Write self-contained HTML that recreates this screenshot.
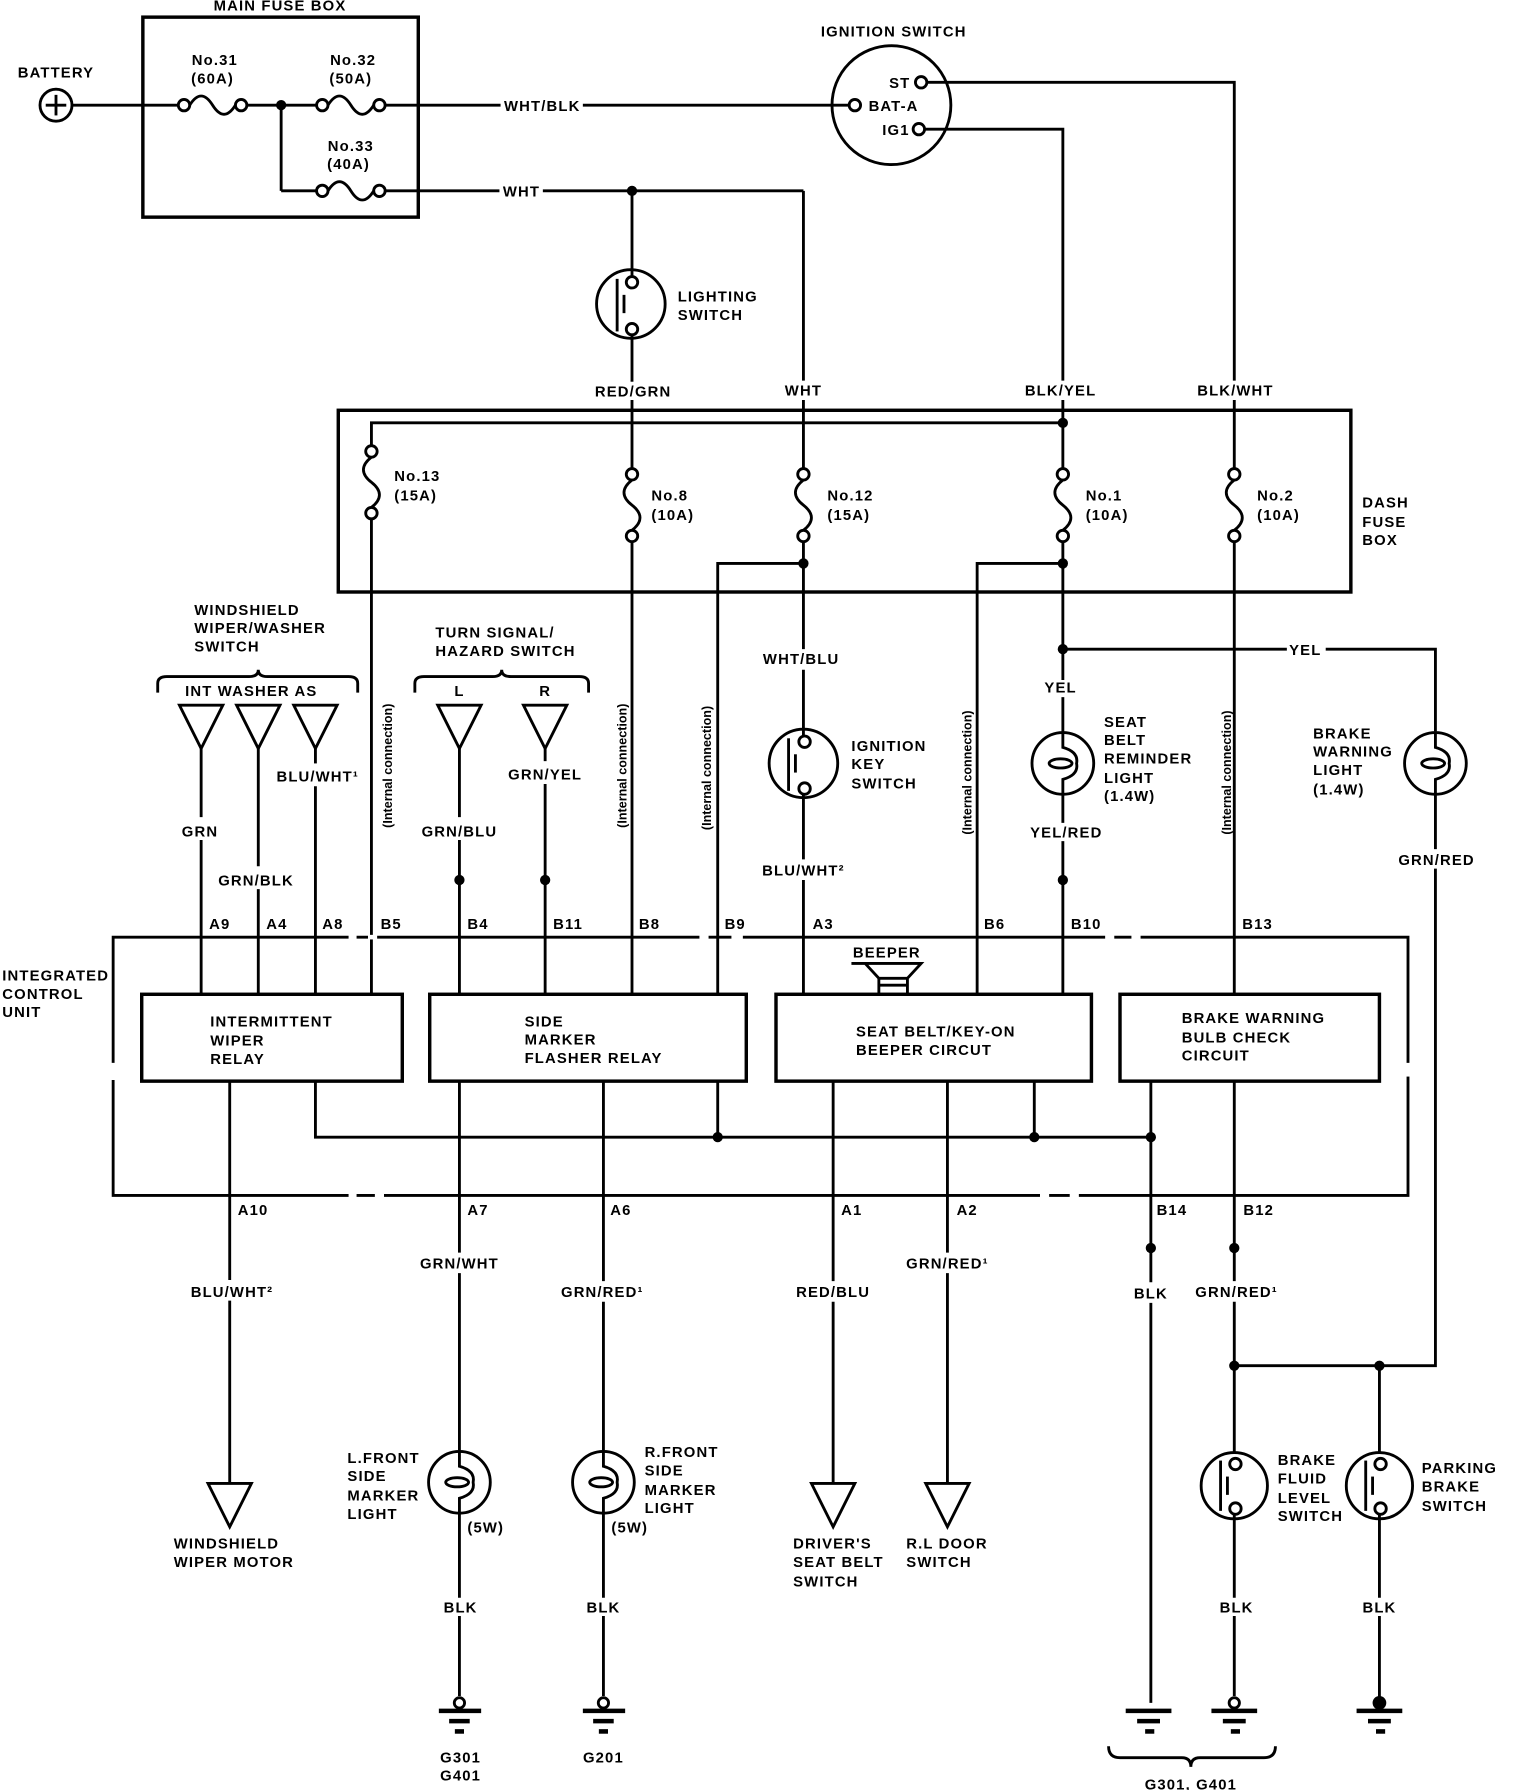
<!DOCTYPE html>
<html><head><meta charset="utf-8"><style>
html,body{margin:0;padding:0;background:#fff}
svg{display:block}
text{font-family:"Liberation Sans",sans-serif;font-weight:bold;font-size:13px;fill:#000;letter-spacing:1px}
.m{text-anchor:middle}
</style></head><body>
<svg width="1520" height="1790" viewBox="0 0 1330 1566.25" xmlns="http://www.w3.org/2000/svg">
<g stroke="#000" stroke-width="2.5" fill="none">
<!-- main fuse box -->
<rect x="125" y="15" width="241" height="175" stroke-width="3"/>
<circle cx="49" cy="92" r="14"/>
<line x1="40" y1="92" x2="58" y2="92"/><line x1="49" y1="83" x2="49" y2="101"/>
<line x1="63" y1="92" x2="156" y2="92"/>
<circle cx="161" cy="92" r="5"/><circle cx="211" cy="92" r="5"/>
<path d="M166 92 Q176 76 186 92 Q196 108 206 92"/>
<line x1="216" y1="92" x2="277" y2="92"/>
<circle cx="282" cy="92" r="5"/><circle cx="332" cy="92" r="5"/>
<path d="M287 92 Q297 76 307 92 Q317 108 327 92"/>
<line x1="337" y1="92" x2="438" y2="92"/>
<line x1="510" y1="92" x2="743" y2="92"/>
<line x1="246" y1="92" x2="246" y2="167"/><line x1="246" y1="167" x2="277" y2="167"/>
<circle cx="282" cy="167" r="5"/><circle cx="332" cy="167" r="5"/>
<path d="M287 167 Q297 151 307 167 Q317 183 327 167"/>
<line x1="337" y1="167" x2="437" y2="167"/>
<line x1="475" y1="167" x2="703" y2="167"/>
<line x1="703" y1="167" x2="703" y2="333"/>
<!-- ignition switch -->
<circle cx="780" cy="92" r="52"/>
<circle cx="806" cy="72" r="5"/><circle cx="748" cy="92" r="5"/><circle cx="804" cy="113" r="5"/>
<polyline points="811,72 1080,72 1080,333"/>
<polyline points="809,113 930,113 930,333"/>
<!-- lighting switch -->
<line x1="553" y1="167" x2="553" y2="242"/>
<circle cx="552" cy="266" r="30"/>
<circle cx="553" cy="247" r="5"/><circle cx="553" cy="288" r="5"/>
<line x1="540" y1="244" x2="540" y2="290"/><line x1="546" y1="258" x2="546" y2="274"/>
<line x1="553" y1="293" x2="553" y2="334"/>
<!-- dash fuse box -->
<rect x="296" y="359" width="886" height="159" stroke-width="3"/>
<line x1="553" y1="350" x2="553" y2="410"/>
<line x1="703" y1="350" x2="703" y2="410"/>
<line x1="930" y1="350" x2="930" y2="410"/>
<line x1="1080" y1="350" x2="1080" y2="410"/>
<polyline points="325,390 325,370 930,370"/>
<!-- fuses vertical -->
<circle cx="325" cy="395" r="5"/><circle cx="325" cy="449" r="5"/>
<path d="M325 400 Q311 411 325 422 Q339 433 325 444"/>
<circle cx="553" cy="415" r="5"/><circle cx="553" cy="469" r="5"/>
<path d="M553 420 Q539 431 553 442 Q567 453 553 464"/>
<circle cx="703" cy="415" r="5"/><circle cx="703" cy="469" r="5"/>
<path d="M703 420 Q689 431 703 442 Q717 453 703 464"/>
<circle cx="930" cy="415" r="5"/><circle cx="930" cy="469" r="5"/>
<path d="M930 420 Q916 431 930 442 Q944 453 930 464"/>
<circle cx="1080" cy="415" r="5"/><circle cx="1080" cy="469" r="5"/>
<path d="M1080 420 Q1066 431 1080 442 Q1094 453 1080 464"/>
<!-- below dash fuse -->
<line x1="325" y1="454" x2="325" y2="870"/>
<line x1="553" y1="474" x2="553" y2="870"/>
<line x1="703" y1="474" x2="703" y2="568"/>
<polyline points="703,493 628,493 628,870"/>
<line x1="930" y1="474" x2="930" y2="595"/>
<polyline points="930,493 855,493 855,870"/>
<line x1="930" y1="568" x2="1126" y2="568"/>
<polyline points="1160,568 1256,568 1256,640"/>
<line x1="1080" y1="474" x2="1080" y2="870"/>
<!-- ignition key switch -->
<line x1="703" y1="586" x2="703" y2="644"/>
<circle cx="703" cy="668" r="30"/>
<circle cx="704" cy="649" r="5"/><circle cx="704" cy="690" r="5"/>
<line x1="690" y1="646" x2="690" y2="692"/><line x1="696" y1="660" x2="696" y2="676"/>
<line x1="703" y1="695" x2="703" y2="752"/>
<line x1="703" y1="770" x2="703" y2="870"/>
<!-- seat belt light -->
<line x1="930" y1="610" x2="930" y2="641"/>
<circle cx="930" cy="668" r="27"/>
<path d="M930 641 L930 654 Q944 658 942 668 Q944 678 930 682 L930 695"/>
<ellipse cx="928" cy="668" rx="10" ry="4"/>
<line x1="930" y1="695" x2="930" y2="720"/>
<line x1="930" y1="736" x2="930" y2="870"/>
<!-- brake warning light -->
<circle cx="1256" cy="668" r="27"/>
<path d="M1256 641 L1256 654 Q1270 658 1268 668 Q1270 678 1256 682 L1256 695"/>
<ellipse cx="1254" cy="668" rx="10" ry="4"/>
<line x1="1256" y1="695" x2="1256" y2="743"/>
<polyline points="1256,760 1256,1195 1080,1195"/>
<!-- switches brackets -->
<path d="M138 606 L138 598 Q138 592 146 592 L218 592 Q226 592 226 586 Q226 592 234 592 L305 592 Q313 592 313 598 L313 606"/>
<path d="M363 606 L363 598 Q363 592 371 592 L431 592 Q439 592 439 586 Q439 592 447 592 L507 592 Q515 592 515 598 L515 606"/>
<polygon points="157,617 195,617 176,655"/>
<polygon points="207,617 245,617 226,655"/>
<polygon points="257,617 295,617 276,655"/>
<polygon points="383,617 421,617 402,655"/>
<polygon points="458,617 496,617 477,655"/>
<line x1="176" y1="655" x2="176" y2="715"/><line x1="176" y1="735" x2="176" y2="870"/>
<line x1="226" y1="655" x2="226" y2="758"/><line x1="226" y1="778" x2="226" y2="870"/>
<line x1="276" y1="655" x2="276" y2="668"/><line x1="276" y1="688" x2="276" y2="870"/>
<line x1="402" y1="655" x2="402" y2="715"/><line x1="402" y1="735" x2="402" y2="870"/>
<line x1="477" y1="655" x2="477" y2="666"/><line x1="477" y1="686" x2="477" y2="870"/>
<!-- ICU outer -->
<path d="M99 820 L1232 820 L1232 1046 L99 1046 Z"/>
<!-- relays -->
<rect x="124" y="870" width="228" height="76" stroke-width="3"/>
<rect x="376" y="870" width="277" height="76" stroke-width="3"/>
<rect x="679" y="870" width="276" height="76" stroke-width="3"/>
<rect x="980" y="870" width="227" height="76" stroke-width="3"/>
<!-- beeper -->
<path d="M745 843 L806 843 L794 856 L794 870 M757 843 L769 856 L769 870 M769 856 L794 856 M769 862 L794 862"/>
<!-- ground bus -->
<polyline points="276,946 276,995 1007,995"/>
<line x1="628" y1="946" x2="628" y2="995"/>
<line x1="905" y1="946" x2="905" y2="995"/>
<line x1="1007" y1="946" x2="1007" y2="1122"/>
<line x1="1007" y1="1140" x2="1007" y2="1490"/>
<!-- outputs -->
<line x1="201" y1="946" x2="201" y2="1120"/><line x1="201" y1="1138" x2="201" y2="1298"/>
<polygon points="182,1298 220,1298 201,1336"/>
<line x1="402" y1="946" x2="402" y2="1096"/><line x1="402" y1="1114" x2="402" y2="1270"/>
<line x1="528" y1="946" x2="528" y2="1121"/><line x1="528" y1="1139" x2="528" y2="1270"/>
<line x1="729" y1="946" x2="729" y2="1121"/><line x1="729" y1="1139" x2="729" y2="1298"/>
<polygon points="710,1298 748,1298 729,1336"/>
<line x1="829" y1="946" x2="829" y2="1096"/><line x1="829" y1="1114" x2="829" y2="1298"/>
<polygon points="810,1298 848,1298 829,1336"/>
<line x1="1080" y1="946" x2="1080" y2="1121"/><line x1="1080" y1="1139" x2="1080" y2="1271"/>
<line x1="1207" y1="1195" x2="1207" y2="1271"/>
<!-- L/R marker lights -->
<circle cx="402" cy="1297" r="27"/>
<path d="M402 1270 L402 1283 Q416 1287 414 1297 Q416 1307 402 1311 L402 1324"/>
<ellipse cx="400" cy="1297" rx="10" ry="4"/>
<line x1="402" y1="1324" x2="402" y2="1398"/><line x1="402" y1="1414" x2="402" y2="1484"/>
<circle cx="528" cy="1297" r="27"/>
<path d="M528 1270 L528 1283 Q542 1287 540 1297 Q542 1307 528 1311 L528 1324"/>
<ellipse cx="526" cy="1297" rx="10" ry="4"/>
<line x1="528" y1="1324" x2="528" y2="1398"/><line x1="528" y1="1414" x2="528" y2="1484"/>
<!-- brake fluid switch -->
<circle cx="1080" cy="1300" r="29"/>
<circle cx="1081" cy="1281" r="5"/><circle cx="1081" cy="1320" r="5"/>
<line x1="1068" y1="1278" x2="1068" y2="1322"/><line x1="1074" y1="1292" x2="1074" y2="1308"/>
<line x1="1080" y1="1325" x2="1080" y2="1398"/><line x1="1080" y1="1414" x2="1080" y2="1484"/>
<circle cx="1207" cy="1300" r="29"/>
<circle cx="1208" cy="1281" r="5"/><circle cx="1208" cy="1320" r="5"/>
<line x1="1195" y1="1278" x2="1195" y2="1322"/><line x1="1201" y1="1292" x2="1201" y2="1308"/>
<line x1="1207" y1="1325" x2="1207" y2="1398"/><line x1="1207" y1="1414" x2="1207" y2="1488"/>
<!-- grounds -->
<circle cx="402" cy="1490" r="4.5"/><circle cx="528" cy="1490" r="4.5"/><circle cx="1080" cy="1490" r="4.5"/>
<g stroke-width="4">
<line x1="384" y1="1497" x2="421" y2="1497"/><line x1="393" y1="1506" x2="411" y2="1506"/><line x1="398" y1="1515" x2="406" y2="1515"/>
<line x1="510" y1="1497" x2="547" y2="1497"/><line x1="519" y1="1506" x2="537" y2="1506"/><line x1="524" y1="1515" x2="532" y2="1515"/>
<line x1="985" y1="1497" x2="1025" y2="1497"/><line x1="995" y1="1506" x2="1015" y2="1506"/><line x1="1002" y1="1515" x2="1010" y2="1515"/>
<line x1="1060" y1="1497" x2="1100" y2="1497"/><line x1="1070" y1="1506" x2="1090" y2="1506"/><line x1="1077" y1="1515" x2="1085" y2="1515"/>
<line x1="1187" y1="1497" x2="1227" y2="1497"/><line x1="1197" y1="1506" x2="1217" y2="1506"/><line x1="1204" y1="1515" x2="1212" y2="1515"/>
</g>
<path d="M970 1528 Q970 1538 980 1538 L1034 1538 Q1042 1538 1042 1546 Q1042 1538 1050 1538 L1106 1538 Q1116 1538 1116 1528"/>
</g>
<!-- white gaps in ICU border (dashed portions) -->
<g stroke="#fff" stroke-width="4">
<line x1="305" y1="820" x2="312" y2="820"/><line x1="322" y1="820" x2="330" y2="820"/>
<line x1="612" y1="820" x2="620" y2="820"/><line x1="640" y1="820" x2="650" y2="820"/>
<line x1="967" y1="820" x2="975" y2="820"/><line x1="990" y1="820" x2="998" y2="820"/>
<line x1="99" y1="930" x2="99" y2="945"/><line x1="1232" y1="930" x2="1232" y2="942"/>
<line x1="305" y1="1046" x2="312" y2="1046"/><line x1="328" y1="1046" x2="336" y2="1046"/>
<line x1="910" y1="1046" x2="918" y2="1046"/><line x1="936" y1="1046" x2="944" y2="1046"/>
</g>
<!-- dots -->
<g fill="#000">
<circle cx="246" cy="92" r="4.5"/><circle cx="553" cy="167" r="4.5"/>
<circle cx="930" cy="370" r="4.5"/><circle cx="703" cy="493" r="4.5"/><circle cx="930" cy="493" r="4.5"/>
<circle cx="930" cy="568" r="4.5"/><circle cx="930" cy="770" r="4.5"/>
<circle cx="402" cy="770" r="4.5"/><circle cx="477" cy="770" r="4.5"/>
<circle cx="628" cy="995" r="4.5"/><circle cx="905" cy="995" r="4.5"/><circle cx="1007" cy="995" r="4.5"/>
<circle cx="1007" cy="1092" r="4.5"/><circle cx="1080" cy="1092" r="4.5"/>
<circle cx="1080" cy="1195" r="4.5"/><circle cx="1207" cy="1195" r="4.5"/>
<circle cx="1207" cy="1490" r="6"/>
</g>
<!-- text -->
<text class="m" x="245" y="9">MAIN FUSE BOX</text>
<text class="m" x="49" y="68">BATTERY</text>
<text class="m" x="188" y="57">No.31</text><text class="m" x="186" y="73">(60A)</text>
<text class="m" x="309" y="57">No.32</text><text class="m" x="307" y="73">(50A)</text>
<text class="m" x="307" y="132">No.33</text><text class="m" x="305" y="148">(40A)</text>
<text x="441" y="97">WHT/BLK</text>
<text x="440" y="172">WHT</text>
<text class="m" x="782" y="32">IGNITION SWITCH</text>
<text x="778" y="77">ST</text>
<text x="760" y="97">BAT-A</text>
<text x="772" y="118">IG1</text>
<text x="593" y="264">LIGHTING</text><text x="593" y="280">SWITCH</text>
<text class="m" x="554" y="347">RED/GRN</text>
<text class="m" x="703" y="346">WHT</text>
<text class="m" x="928" y="346">BLK/YEL</text>
<text class="m" x="1081" y="346">BLK/WHT</text>
<text x="345" y="421">No.13</text><text x="345" y="438">(15A)</text>
<text x="570" y="438">No.8</text><text x="570" y="455">(10A)</text>
<text x="724" y="438">No.12</text><text x="724" y="455">(15A)</text>
<text x="950" y="438">No.1</text><text x="950" y="455">(10A)</text>
<text x="1100" y="438">No.2</text><text x="1100" y="455">(10A)</text>
<text x="1192" y="444">DASH</text><text x="1192" y="461">FUSE</text><text x="1192" y="477">BOX</text>
<text x="170" y="538">WINDSHIELD</text><text x="170" y="554">WIPER/WASHER</text><text x="170" y="570">SWITCH</text>
<text x="162" y="609">INT  WASHER AS</text>
<text x="381" y="558">TURN SIGNAL/</text><text x="381" y="574">HAZARD SWITCH</text>
<text class="m" x="402" y="609">L</text><text class="m" x="477" y="609">R</text>
<text class="m" x="175" y="732">GRN</text>
<text class="m" x="224" y="775">GRN/BLK</text>
<text class="m" x="278" y="684">BLU/WHT¹</text>
<text class="m" x="402" y="732">GRN/BLU</text>
<text class="m" x="477" y="682">GRN/YEL</text>
<text class="m" x="701" y="581">WHT/BLU</text>
<text x="745" y="657">IGNITION</text><text x="745" y="673">KEY</text><text x="745" y="690">SWITCH</text>
<text class="m" x="703" y="766">BLU/WHT²</text>
<text class="m" x="928" y="606">YEL</text>
<text x="966" y="636">SEAT</text><text x="966" y="652">BELT</text><text x="966" y="668">REMINDER</text><text x="966" y="685">LIGHT</text><text x="966" y="701">(1.4W)</text>
<text class="m" x="933" y="733">YEL/RED</text>
<text x="1128" y="573">YEL</text>
<text x="1149" y="646">BRAKE</text><text x="1149" y="662">WARNING</text><text x="1149" y="678">LIGHT</text><text x="1149" y="695">(1.4W)</text>
<text class="m" x="1257" y="757">GRN/RED</text>
<g font-size="11">
<text transform="translate(343,670) rotate(-90)" class="m" style="font-size:11px;letter-spacing:0">(Internal connection)</text>
<text transform="translate(548,670) rotate(-90)" class="m" style="font-size:11px;letter-spacing:0">(Internal connection)</text>
<text transform="translate(622,672) rotate(-90)" class="m" style="font-size:11px;letter-spacing:0">(Internal connection)</text>
<text transform="translate(850,676) rotate(-90)" class="m" style="font-size:11px;letter-spacing:0">(Internal connection)</text>
<text transform="translate(1077,676) rotate(-90)" class="m" style="font-size:11px;letter-spacing:0">(Internal connection)</text>
</g>
<text x="183" y="813">A9</text><text x="233" y="813">A4</text><text x="282" y="813">A8</text><text x="333" y="813">B5</text>
<text x="409" y="813">B4</text><text x="484" y="813">B11</text><text x="559" y="813">B8</text><text x="634" y="813">B9</text>
<text x="711" y="813">A3</text><text x="861" y="813">B6</text><text x="937" y="813">B10</text><text x="1087" y="813">B13</text>
<text x="2" y="858">INTEGRATED</text><text x="2" y="874">CONTROL</text><text x="2" y="890">UNIT</text>
<text class="m" x="776" y="838">BEEPER</text>
<text x="184" y="898">INTERMITTENT</text><text x="184" y="915">WIPER</text><text x="184" y="931">RELAY</text>
<text x="459" y="898">SIDE</text><text x="459" y="914">MARKER</text><text x="459" y="930">FLASHER RELAY</text>
<text x="749" y="907">SEAT BELT/KEY-ON</text><text x="749" y="923">BEEPER CIRCUT</text>
<text x="1034" y="895">BRAKE WARNING</text><text x="1034" y="912">BULB CHECK</text><text x="1034" y="928">CIRCUIT</text>
<text x="208" y="1063">A10</text><text x="409" y="1063">A7</text><text x="534" y="1063">A6</text>
<text x="736" y="1063">A1</text><text x="837" y="1063">A2</text><text x="1012" y="1063">B14</text><text x="1088" y="1063">B12</text>
<text class="m" x="203" y="1135">BLU/WHT²</text>
<text class="m" x="402" y="1110">GRN/WHT</text>
<text class="m" x="527" y="1135">GRN/RED¹</text>
<text class="m" x="729" y="1135">RED/BLU</text>
<text class="m" x="829" y="1110">GRN/RED¹</text>
<text class="m" x="1007" y="1136">BLK</text>
<text class="m" x="1082" y="1135">GRN/RED¹</text>
<text x="304" y="1280">L.FRONT</text><text x="304" y="1296">SIDE</text><text x="304" y="1313">MARKER</text><text x="304" y="1329">LIGHT</text>
<text x="409" y="1341">(5W)</text>
<text x="564" y="1275">R.FRONT</text><text x="564" y="1291">SIDE</text><text x="564" y="1308">MARKER</text><text x="564" y="1324">LIGHT</text>
<text x="535" y="1341">(5W)</text>
<text x="152" y="1355">WINDSHIELD</text><text x="152" y="1371">WIPER MOTOR</text>
<text x="694" y="1355">DRIVER'S</text><text x="694" y="1371">SEAT BELT</text><text x="694" y="1388">SWITCH</text>
<text x="793" y="1355">R.L DOOR</text><text x="793" y="1371">SWITCH</text>
<text x="1118" y="1282">BRAKE</text><text x="1118" y="1298">FLUID</text><text x="1118" y="1315">LEVEL</text><text x="1118" y="1331">SWITCH</text>
<text x="1244" y="1289">PARKING</text><text x="1244" y="1305">BRAKE</text><text x="1244" y="1322">SWITCH</text>
<text class="m" x="403" y="1411">BLK</text><text class="m" x="528" y="1411">BLK</text>
<text class="m" x="1082" y="1411">BLK</text><text class="m" x="1207" y="1411">BLK</text>
<text class="m" x="403" y="1542">G301</text><text class="m" x="403" y="1558">G401</text>
<text class="m" x="528" y="1542">G201</text>
<text class="m" x="1042" y="1566">G301, G401</text>
</svg>
</body></html>
